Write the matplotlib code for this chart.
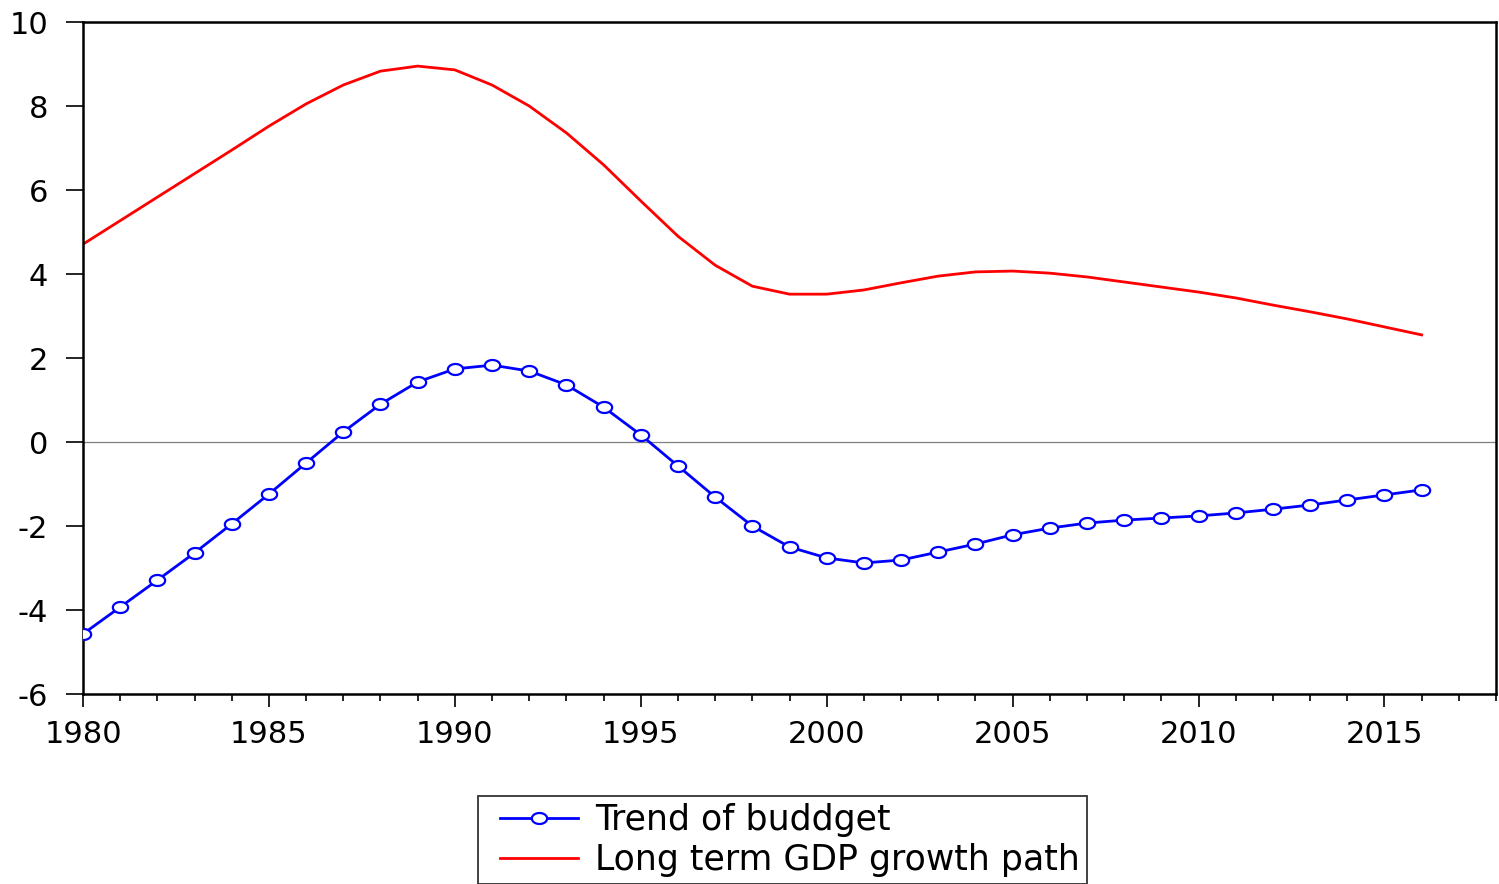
import matplotlib
matplotlib.use("Agg")
import matplotlib.pyplot as plt
import numpy as np
from matplotlib.ticker import MultipleLocator
from matplotlib.path import Path
from matplotlib.legend_handler import HandlerLine2D

plt.rcParams['font.family'] = ['DejaVu Sans']
plt.rcParams['axes.unicode_minus'] = False

years = list(range(1980, 2017))
budget = [-4.57, -3.93, -3.29, -2.64, -1.95, -1.24, -0.50, 0.24, 0.90, 1.43,
          1.74, 1.83, 1.69, 1.36, 0.83, 0.17, -0.57, -1.31, -2.00, -2.50,
          -2.76, -2.88, -2.81, -2.62, -2.43, -2.21, -2.05, -1.93, -1.86, -1.81,
          -1.76, -1.69, -1.60, -1.50, -1.38, -1.26, -1.14]
gdp = [4.71, 5.27, 5.83, 6.39, 6.95, 7.52, 8.05, 8.50, 8.83, 8.95,
       8.86, 8.50, 8.00, 7.36, 6.60, 5.74, 4.90, 4.21, 3.71, 3.52,
       3.52, 3.62, 3.79, 3.95, 4.05, 4.07, 4.02, 3.93, 3.81, 3.69,
       3.57, 3.43, 3.26, 3.10, 2.93, 2.74, 2.55]
labels = ["Trend of buddget", "Long term GDP growth path"]

# flattened ellipse marker
t = np.linspace(0, 2 * np.pi, 61)
ell = Path(np.column_stack([np.cos(t), 0.72 * np.sin(t)]), closed=True)

fig = plt.figure(figsize=(14.99, 8.84), dpi=100)
ax = fig.add_axes([83/1499, 190/884, (1496-83)/1499, (694-22)/884])

ax.axhline(0, color='#808080', lw=0.9, zorder=1)
l1, = ax.plot(years, budget, color='#0000FF', lw=2.0, marker=ell, markersize=11,
              markerfacecolor='white', markeredgecolor='#0000FF', markeredgewidth=1.6,
              zorder=3)
l2, = ax.plot(years, gdp, color='#FF0000', lw=2.0, zorder=2)

ax.set_xlim(1980, 2018)
ax.set_ylim(-6, 10)
ax.xaxis.set_major_locator(MultipleLocator(5))
ax.xaxis.set_minor_locator(MultipleLocator(1))
ax.yaxis.set_major_locator(MultipleLocator(2))

for s in ax.spines.values():
    s.set_linewidth(1.8)
    s.set_color('black')

ax.tick_params(axis='y', which='major', direction='out', length=12, width=1.2,
               labelsize=22, pad=13)
ax.tick_params(axis='x', which='major', direction='out', length=9.5, width=1.2,
               labelsize=22, pad=9)
ax.tick_params(axis='x', which='minor', direction='out', length=5, width=1.2)

fs = 25
fpx = fs * 100 / 72
bp = 0.2
xpad = (22 - bp * fpx) / fpx
leg = fig.legend([l1, l2], labels, loc='upper left',
                 bbox_to_anchor=(478/1499, (884-796)/884),
                 frameon=True, fancybox=False, fontsize=fs,
                 handlelength=78 / fpx + xpad, handletextpad=17 / fpx,
                 borderpad=bp, labelspacing=0.18, borderaxespad=0,
                 handler_map={l1: HandlerLine2D(xpad=xpad), l2: HandlerLine2D(xpad=xpad)})
leg.get_frame().set_edgecolor('black')
leg.get_frame().set_linewidth(1.3)

fig.savefig("out.png", dpi=100)
